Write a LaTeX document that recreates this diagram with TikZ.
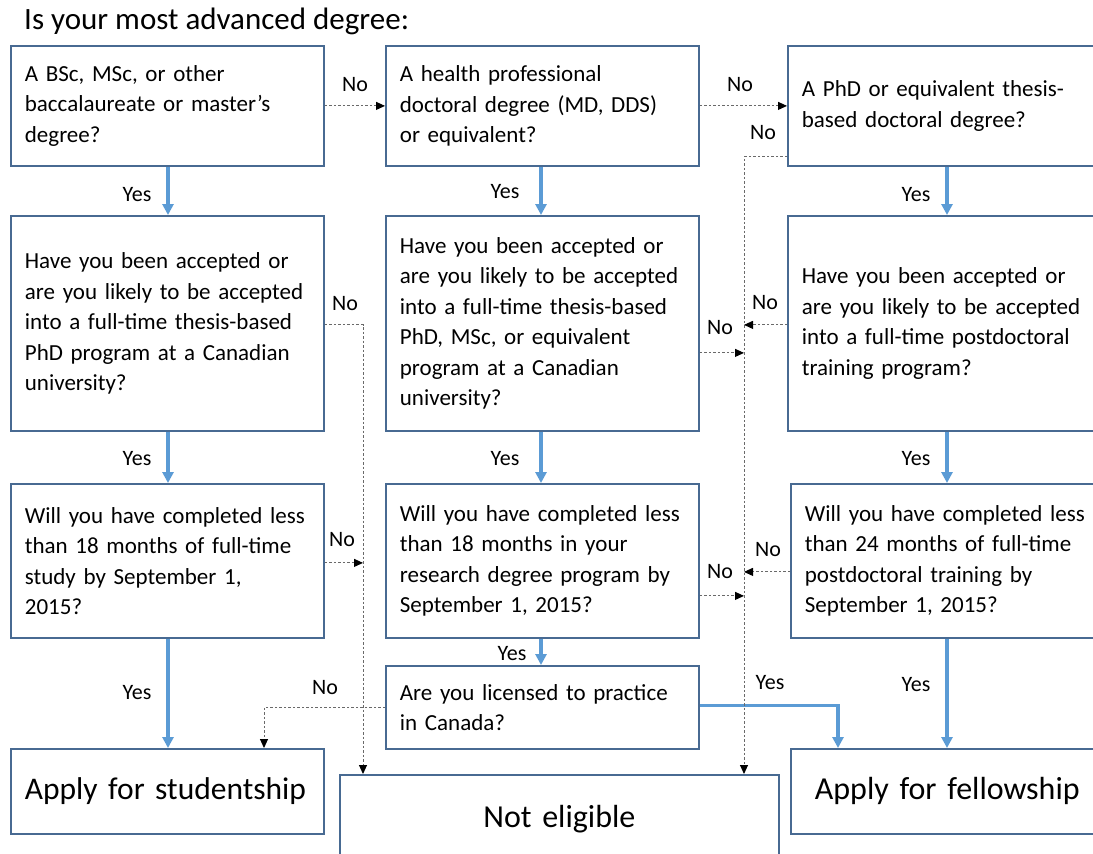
\documentclass[tikz,border=0pt]{standalone}
\usepackage{fontspec}
\setmainfont{Carlito}
\usetikzlibrary{arrows.meta,calc}
\definecolor{boxc}{RGB}{72,106,146}
\definecolor{bluec}{RGB}{91,155,213}
\definecolor{dotc}{RGB}{105,105,105}
\begin{document}
\begin{tikzpicture}[x=1pt,y=-1pt,
  q/.style={draw=boxc,line width=1.8pt,anchor=north west,minimum width=313pt,text width=285pt,inner xsep=14pt,inner ysep=0pt,align=left,font=\fontsize{23}{30.5}\selectfont},
  big/.style={q,font=\fontsize{32}{37}\selectfont},
  lab/.style={font=\fontsize{22}{26}\selectfont,inner sep=0pt},
  yes/.style={draw=bluec,line width=3.2pt,-{Triangle[length=11pt,width=11pt]}},
  nob/.style={draw=dotc,line width=1pt,dash pattern=on 2.5pt off 2pt},
  noa/.style={nob,-{Triangle[length=9pt,width=8pt,fill=black,color=black]}}]
\useasboundingbox (0,0) rectangle (1093,854);
\fill[white] (0,0) rectangle (1093,854);
\clip (0,0) rectangle (1093,854);

\node[anchor=west,inner sep=0pt,font=\fontsize{31}{36}\selectfont] (title) at (24,21) {Is your most advanced degree:};

% column A
\node[q,minimum height=120pt] (A1) at (10,45) {A BSc, MSc, or other\\baccalaureate or master’s\\degree?};
\node[q,minimum height=215pt] (A2) at (10,215) {Have you been accepted or\\are you likely to be accepted\\into a full-time thesis-based\\PhD program at a Canadian\\university?};
\node[q,minimum height=154pt] (A3) at (10,483) {Will you have completed less\\than 18 months of full-time\\study by September 1,\\2015?};
\node[big,minimum height=85pt,font=\fontsize{31.5}{37}\selectfont] (A5) at (10,748) {\mbox{Apply for studentship}};

% column B
\node[q,minimum height=120pt] (B1) at (385,45) {A health professional\\doctoral degree (MD, DDS)\\or equivalent?};
\node[q,minimum height=215pt] (B2) at (385,215) {Have you been accepted or\\are you likely to be accepted\\into a full-time thesis-based\\PhD, MSc, or equivalent\\program at a Canadian\\university?};
\node[q,minimum height=154pt] (B3) at (385,483) {Will you have completed less\\than 18 months in your\\research degree program by\\September 1, 2015?};
\node[q,minimum height=83pt] (B4) at (385,665) {Are you licensed to practice\\in Canada?};

% column C
\node[q,minimum height=120pt,inner xsep=13pt] (C1) at (787,45) {A PhD or equivalent thesis-\\based doctoral degree?};
\node[q,minimum height=215pt,inner xsep=13pt] (C2) at (787,215) {Have you been accepted or\\are you likely to be accepted\\into a full-time postdoctoral\\training program?};
\node[q,minimum height=154pt,inner xsep=13pt] (C3) at (790,483) {Will you have completed less\\than 24 months of full-time\\postdoctoral training by\\September 1, 2015?};
\node[big,minimum height=85pt] (C5) at (790,748) {\mbox{\hspace*{10pt}Apply for fellowship}};

% not eligible
\node[big,minimum width=439pt,text width=411pt,align=center,minimum height=88pt] (N) at (339,774) {Not eligible};

\coordinate (vL) at (363,0);
\coordinate (vR) at (744,0);
\coordinate (vS) at (264,0);
\coordinate (vF) at (838,0);

% yes arrows
\draw[yes] (A1.south -| 168,0) -- (A2.north -| 168,0);
\draw[yes] (A2.south -| 168,0) -- (A3.north -| 168,0);
\draw[yes] (A3.south -| 168,0) -- (A5.north -| 168,0);
\draw[yes] (B1.south -| 541,0) -- (B2.north -| 541,0);
\draw[yes] (B2.south -| 541,0) -- (B3.north -| 541,0);
\draw[yes] (B3.south -| 541,0) -- (B4.north -| 541,0);
\draw[yes] (C1.south -| 947,0) -- (C2.north -| 947,0);
\draw[yes] (C2.south -| 947,0) -- (C3.north -| 947,0);
\draw[yes] (C3.south -| 947,0) -- (C5.north -| 947,0);
\draw[yes] ([yshift=2pt]B4.east) -| (C5.north -| vF);

\node[lab] (y1) at (137,195) {Yes};
\node[lab] (y2) at (137,459) {Yes};
\node[lab] (y3) at (137,693) {Yes};
\node[lab] (y4) at (505,192) {Yes};
\node[lab] (y5) at (505,459) {Yes};
\node[lab] (y6) at (512,654) {Yes};
\node[lab] (y7) at (916,195) {Yes};
\node[lab] (y8) at (916,459) {Yes};
\node[lab] (y9) at (916,685) {Yes};
\node[lab] (y10) at (770,683) {Yes};

% no connectors
\draw[noa] (A1.east) -- (B1.west);
\draw[noa] (B1.east) -- (C1.west);
\draw[noa] ([yshift=-51pt]C1.west) -| (N.north -| vR);
\draw[noa] ([yshift=-1.5pt]A2.east) -| (N.north -| vL);
\draw[noa] ([yshift=-2pt]A3.east) -- ([yshift=-2pt]A3.east -| vL);
\draw[noa] ([yshift=-29.5pt]B2.east) -- ([yshift=-29.5pt]B2.east -| vR);
\draw[noa] ([yshift=-1.5pt]C2.west) -- ([yshift=-1.5pt]C2.west -| vR);
\draw[noa] ([yshift=-35pt]B3.east) -- ([yshift=-35pt]B3.east -| vR);
\draw[noa] ([yshift=-11pt]C3.west) -- ([yshift=-11pt]C3.west -| vR);
\draw[noa] (B4.west) -| (A5.north -| vS);

\node[lab] (n1) at (355,85) {No};
\node[lab] (n2) at (740,85) {No};
\node[lab] (n3) at (763,133) {No};
\node[lab] (n4) at (345,304) {No};
\node[lab] (n5) at (720,328) {No};
\node[lab] (n6) at (765,303) {No};
\node[lab] (n7) at (342,540) {No};
\node[lab] (n8) at (720,572) {No};
\node[lab] (n9) at (768,550) {No};
\node[lab] (n10) at (325,688) {No};
\end{tikzpicture}
\end{document}
